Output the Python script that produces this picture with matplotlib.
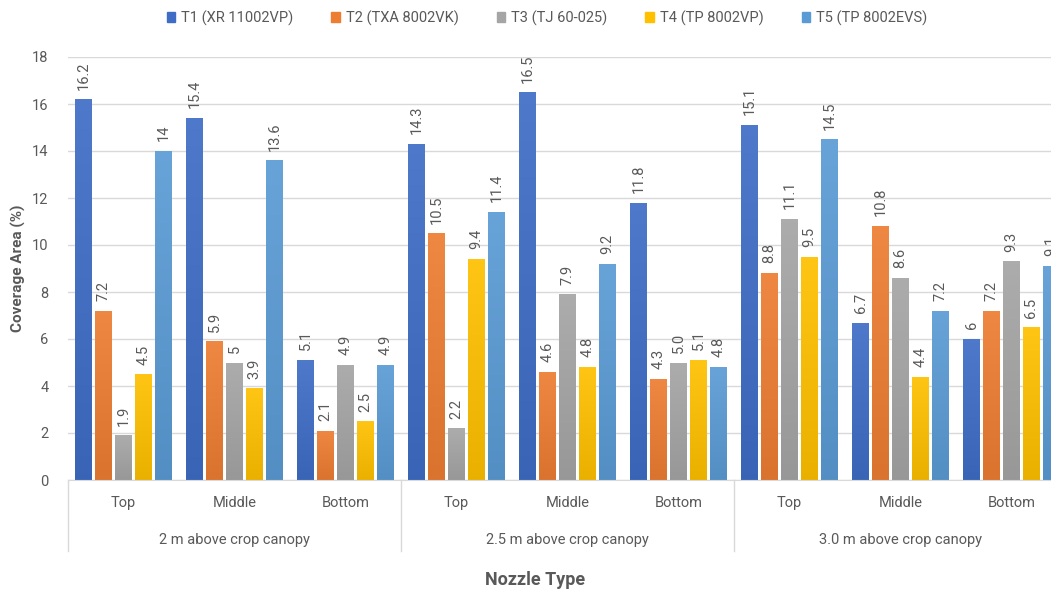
import numpy as np
import matplotlib.pyplot as plt
from matplotlib.colors import to_rgb, LinearSegmentedColormap
from matplotlib.patches import Patch

plt.rcParams['font.family'] = ['Roboto', 'DejaVu Sans']
fs = 10.5

positions = ["Top", "Middle", "Bottom"]
heights = ["2 m above crop canopy", "2.5 m above crop canopy", "3.0 m above crop canopy"]
series = ["T1 (XR 11002VP)", "T2 (TXA 8002VK)", "T3 (TJ 60-025)", "T4 (TP 8002VP)", "T5 (TP 8002EVS)"]

# labels as printed on the chart (values are read from them)
t1 = ["16.2", "15.4", "5.1", "14.3", "16.5", "11.8", "15.1", "6.7", "6"]
t2 = ["7.2", "5.9", "2.1", "10.5", "4.6", "4.3", "8.8", "10.8", "7.2"]
t3 = ["1.9", "5", "4.9", "2.2", "7.9", "5.0", "11.1", "8.6", "9.3"]
t4 = ["4.5", "3.9", "2.5", "9.4", "4.8", "5.1", "9.5", "4.4", "6.5"]
t5 = ["14", "13.6", "4.9", "11.4", "9.2", "4.8", "14.5", "7.2", "9.1"]
data = [t1, t2, t3, t4, t5]

colors = ["#3F6DC6", "#ED7D31", "#A5A5A5", "#FFC000", "#5B9BD5"]
text_col = "#595959"


def shade(c, f):
    c = np.array(to_rgb(c))
    if f > 0:
        return tuple(c + (1 - c) * f)
    return tuple(c * (1 + f))


W, H = 1051, 594
fig = plt.figure(figsize=(W / 100, H / 100), dpi=100)
ax = fig.add_axes([68 / W, 1 - 480 / H, 333 * 3 / W, (480 - 57) / H])

n_cat = len(heights) * len(positions)
x = np.arange(n_cat)
step = 0.18
width = 0.145

for k, (vals, col) in enumerate(zip(data, colors)):
    v = [float(s) for s in vals]
    xs = x + (k - 2) * step
    bars = ax.bar(xs, v, width, color=col, zorder=2)
    # subtle vertical gradient, lighter at the top
    cmap = LinearSegmentedColormap.from_list("g", [shade(col, -0.08), shade(col, 0.08)])
    grad = np.linspace(0, 1, 64).reshape(-1, 1)
    for b, val, lab in zip(bars, v, vals):
        bx, bw = b.get_x(), b.get_width()
        im = ax.imshow(grad, cmap=cmap, origin="lower", aspect="auto",
                       extent=[bx, bx + bw, 0, val], zorder=2.5)
        im.set_clip_path(b)
        ax.annotate(lab, (b.get_x() + bw / 2, val), xytext=(0, 7),
                    textcoords="offset points", rotation=90, ha="center",
                    va="bottom", fontsize=fs, color=text_col)

ax.set_xlim(-0.5, n_cat - 0.5)
ax.set_ylim(0, 18)
ax.set_yticks(np.arange(0, 19, 2))
ax.tick_params(axis="y", length=0, labelsize=fs, labelcolor=text_col, pad=14)
ax.set_xticks([])
ax.grid(axis="y", color="#D9D9D9", linewidth=1, zorder=0)
for s in ["top", "right", "left"]:
    ax.spines[s].set_visible(False)
ax.spines["bottom"].set_color("#D9D9D9")

tr = ax.get_xaxis_transform()
for i in range(n_cat):
    ax.text(x[i], -0.055, positions[i % 3], transform=tr, ha="center", va="center",
            fontsize=fs, color=text_col)
for g, name in enumerate(heights):
    ax.text(g * 3 + 1, -0.142, name, transform=tr, ha="center", va="center",
            fontsize=fs, color=text_col)
    ax.plot([g * 3 - 0.5] * 2, [0, -0.167], transform=tr, color="#D9D9D9",
            linewidth=1, clip_on=False)

fig.text(18 / W, 1 - 268 / H, "Coverage Area (%)", rotation=90, ha="center",
         va="center", fontsize=fs + 0.5, fontweight="bold", color=text_col)
fig.text(535 / W, 1 - 580 / H, "Nozzle Type", ha="center", va="center",
         fontsize=fs + 2.5, fontweight="bold", color=text_col)

handles = [Patch(color=c, label=s) for c, s in zip(colors, series)]
fig.legend(handles=handles, loc="center", bbox_to_anchor=(547 / W, 1 - 18 / H),
           ncol=5, frameon=False, fontsize=fs, handlelength=0.6, handleheight=0.6,
           handletextpad=0.4, columnspacing=2.6, labelcolor=text_col)

fig.savefig("out.png", dpi=100)
